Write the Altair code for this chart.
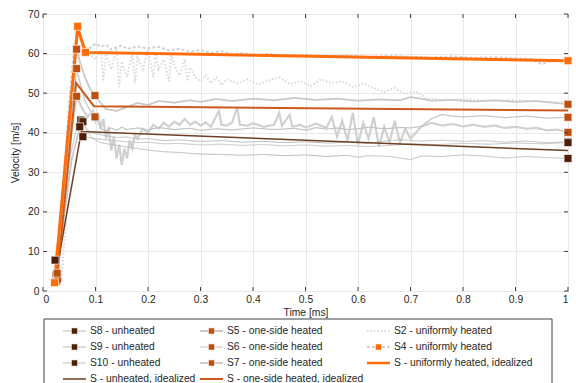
import altair as alt
import pandas as pd

# ---------------- data ----------------
XTICKS = [0, 0.1, 0.2, 0.3, 0.4, 0.5, 0.6, 0.7, 0.8, 0.9, 1]
YTICKS = [0, 10, 20, 30, 40, 50, 60, 70]

# measured traces (time [ms], velocity [m/s])
S2 = [(0.035, 3), (0.045, 20), (0.055, 42), (0.065, 58), (0.075, 63), (0.085, 61), (0.095, 59),
      (0.1, 58.5), (0.11, 61), (0.115, 53), (0.12, 60), (0.13, 56), (0.14, 61.5), (0.145, 51.5),
      (0.15, 58), (0.16, 54), (0.17, 60.5), (0.175, 52.5), (0.18, 59), (0.19, 56), (0.2, 61),
      (0.21, 54), (0.215, 60), (0.22, 56), (0.23, 58.5), (0.24, 53), (0.245, 60), (0.25, 57),
      (0.26, 54.5), (0.27, 58.5), (0.275, 53), (0.28, 56.5), (0.29, 54), (0.3, 53), (0.31, 54.5),
      (0.32, 52.5), (0.33, 54), (0.34, 52), (0.35, 53.5), (0.37, 52.5), (0.39, 53.5), (0.41, 52.2),
      (0.43, 53.2), (0.45, 54), (0.47, 52.3), (0.49, 53), (0.51, 51.8), (0.53, 53.5), (0.55, 52.5),
      (0.57, 53), (0.59, 51.5), (0.61, 52.5), (0.63, 51.2), (0.65, 50.3), (0.67, 51.3), (0.69, 49.8),
      (0.71, 50.5), (0.73, 48.7), (0.76, 48.2), (0.8, 48.5), (0.85, 48), (0.9, 48.3), (0.95, 47.8),
      (1.0, 47.6)]
S4 = [(0.022, 2.1), (0.03, 12), (0.04, 30), (0.05, 48), (0.058, 60), (0.066, 66.9), (0.072, 63),
      (0.081, 60.3), (0.09, 61.5), (0.1, 62.5), (0.11, 61.8), (0.12, 62.2), (0.13, 61), (0.14, 61.6),
      (0.15, 62), (0.16, 61.2), (0.18, 61.8), (0.2, 61.3), (0.22, 61.7), (0.24, 60.8), (0.26, 61.2),
      (0.28, 60.5), (0.3, 60.9), (0.32, 60.2), (0.34, 60.6), (0.36, 59.8), (0.38, 60.1), (0.4, 59.6),
      (0.43, 59.9), (0.46, 59.4), (0.5, 59.6), (0.54, 59.2), (0.58, 59.5), (0.62, 59.1), (0.66, 59.4),
      (0.7, 59.2), (0.74, 59.0), (0.78, 59.3), (0.82, 58.9), (0.86, 59.1), (0.9, 58.8), (0.93, 58.6),
      (0.95, 57.3), (0.96, 57.8), (0.98, 58.3), (1.0, 58.2)]
S5 = [(0.027, 4.5), (0.035, 15), (0.045, 32), (0.055, 50), (0.064, 61.1), (0.07, 58), (0.08, 54),
      (0.09, 51), (0.099, 49.4), (0.11, 47.5), (0.12, 46), (0.14, 45.5), (0.16, 46.5), (0.18, 47.5),
      (0.2, 47), (0.22, 48), (0.25, 47.6), (0.28, 48.2), (0.3, 47.8), (0.33, 48.5), (0.36, 48),
      (0.4, 48.6), (0.44, 48.2), (0.48, 48.8), (0.52, 48.3), (0.56, 48.6), (0.6, 48.1), (0.64, 48.4),
      (0.68, 48.2), (0.7, 49), (0.72, 48.6), (0.74, 48.1), (0.78, 48.3), (0.82, 47.9), (0.86, 48.2),
      (0.9, 47.8), (0.94, 48.0), (0.97, 47.6), (1.0, 47.2)]
S6 = [(0.028, 3.0), (0.035, 14), (0.045, 30), (0.055, 46), (0.064, 56.2), (0.072, 52), (0.08, 48),
      (0.09, 45.5), (0.099, 44), (0.105, 42.5), (0.11, 41), (0.12, 40.5), (0.13, 41.2), (0.14, 40.6),
      (0.15, 41.4), (0.16, 40.8), (0.18, 41.2), (0.2, 40.7), (0.22, 41.3), (0.25, 40.8), (0.28, 41.1),
      (0.3, 40.6), (0.33, 41.0), (0.36, 40.7), (0.4, 41.2), (0.44, 40.8), (0.48, 41.1), (0.5, 40.6),
      (0.52, 41.3), (0.54, 40.9), (0.56, 41.2), (0.58, 40.8), (0.6, 41.0), (0.62, 41.4), (0.65, 41.0),
      (0.68, 41.3), (0.7, 41.2), (0.72, 41.6), (0.74, 43.5), (0.76, 44.6), (0.78, 44.2), (0.8, 44.0),
      (0.84, 44.3), (0.88, 43.8), (0.92, 44.2), (0.96, 43.7), (1.0, 43.9)]
S7 = [(0.026, 2.5), (0.04, 20), (0.052, 38), (0.064, 49.2), (0.075, 46), (0.085, 44), (0.095, 45.5),
      (0.1, 43), (0.105, 45), (0.11, 41), (0.115, 43.5), (0.12, 38.5), (0.125, 41.5), (0.13, 35.5),
      (0.135, 39), (0.14, 33.5), (0.145, 37), (0.15, 31.8), (0.155, 36), (0.16, 33.5), (0.165, 38),
      (0.17, 36), (0.175, 39.5), (0.18, 38.5), (0.19, 41), (0.2, 40), (0.21, 42), (0.22, 41),
      (0.23, 42.5), (0.24, 41.5), (0.25, 42.8), (0.26, 42), (0.27, 43.5), (0.28, 42), (0.29, 42.8),
      (0.3, 41.8), (0.31, 42.6), (0.32, 41.5), (0.335, 45.5), (0.34, 42), (0.35, 41.8), (0.36, 42.5),
      (0.37, 46.5), (0.375, 42), (0.39, 41.8), (0.4, 42.4), (0.42, 41.5), (0.44, 42), (0.45, 45),
      (0.455, 41.8), (0.47, 44.5), (0.475, 41.5), (0.49, 42), (0.5, 41.3), (0.52, 42.3), (0.54, 41.2),
      (0.55, 44), (0.56, 39), (0.57, 43), (0.58, 38), (0.59, 45), (0.6, 37), (0.61, 42.5), (0.62, 38.5),
      (0.63, 44), (0.64, 36.5), (0.65, 41.5), (0.66, 37.5), (0.67, 43), (0.68, 37.5), (0.69, 41),
      (0.7, 38.5), (0.72, 41.5), (0.74, 42.5), (0.76, 41.8), (0.78, 42.2), (0.8, 41.6), (0.82, 42),
      (0.84, 41.5), (0.86, 41.8), (0.88, 41.2), (0.9, 41.5), (0.92, 41), (0.94, 41.2), (0.96, 40.6),
      (0.98, 40.8), (1.0, 40.1)]
S8 = [(0.023, 7.8), (0.035, 20), (0.05, 33), (0.062, 40), (0.072, 43.2), (0.08, 41.5), (0.09, 40.2),
      (0.1, 39.8), (0.12, 39.2), (0.14, 38.8), (0.16, 38.9), (0.18, 38.4), (0.2, 38.5), (0.23, 38.0),
      (0.26, 38.2), (0.3, 37.8), (0.34, 38.0), (0.38, 37.6), (0.42, 37.8), (0.46, 37.5), (0.5, 37.7),
      (0.54, 37.4), (0.58, 37.6), (0.62, 37.3), (0.65, 37.9), (0.68, 38.2), (0.72, 37.9), (0.76, 38.1),
      (0.8, 37.8), (0.84, 38.0), (0.88, 37.6), (0.92, 37.9), (0.96, 37.5), (1.0, 37.7)]
S9 = [(0.026, 3.5), (0.04, 18), (0.055, 33), (0.068, 40), (0.076, 42.8), (0.085, 40), (0.095, 38.5),
      (0.11, 37.5), (0.13, 37), (0.15, 36.6), (0.18, 36), (0.2, 35.6), (0.23, 35.2), (0.26, 35.0),
      (0.3, 34.6), (0.34, 34.5), (0.38, 34.3), (0.42, 34.5), (0.46, 34.2), (0.5, 34.4), (0.54, 34.0),
      (0.58, 34.3), (0.6, 33.8), (0.62, 34.2), (0.66, 34.0), (0.7, 33.2), (0.72, 34.1), (0.76, 34.0),
      (0.8, 34.4), (0.84, 34.1), (0.88, 33.6), (0.92, 34.0), (0.96, 33.7), (1.0, 33.5)]
S10 = [(0.025, 4.0), (0.04, 20), (0.055, 34), (0.07, 41.5), (0.076, 39), (0.085, 38.8), (0.1, 38.5),
       (0.12, 38.2), (0.15, 37.8), (0.18, 37.5), (0.2, 37.6), (0.23, 37.2), (0.26, 37.3), (0.3, 36.9),
       (0.34, 37.1), (0.38, 36.8), (0.42, 37.0), (0.46, 36.7), (0.5, 36.9), (0.54, 36.6), (0.58, 36.8),
       (0.62, 36.5), (0.66, 36.8), (0.7, 37.2), (0.75, 37.0), (0.8, 37.3), (0.85, 37.1), (0.9, 37.4),
       (0.95, 37.2), (1.0, 37.5)]

# characteristic points (square markers)
MARK_S4 = [(0.022, 2.1), (0.066, 66.9), (0.081, 60.3), (1.0, 58.2)]
MARK_S5 = [(0.027, 4.5), (0.064, 61.1), (0.099, 49.4), (1.0, 47.2)]
MARK_S6 = [(0.028, 3.0), (0.064, 56.2), (0.099, 44.0), (1.0, 43.9)]
MARK_S7 = [(0.026, 2.5), (0.064, 49.2), (1.0, 40.1)]
MARK_S8 = [(0.023, 7.8), (0.072, 43.2), (1.0, 37.7)]
MARK_S9 = [(0.026, 3.5), (0.076, 42.8), (1.0, 33.5)]
MARK_S10 = [(0.025, 4.0), (0.07, 41.5), (0.076, 39.0), (1.0, 37.5)]

# idealized curves
IDEAL_UNIFORM = [(0.022, 2.1), (0.066, 66.5), (0.081, 60.3), (1.0, 58.2)]
IDEAL_ONESIDE = [(0.027, 3.5), (0.063, 52.6), (0.097, 46.7), (1.0, 45.6)]
IDEAL_UNHEATED = [(0.027, 6.0), (0.073, 40.3), (1.0, 35.5)]

# legend entries in row-major order (3 columns)
LEGEND_LABELS = ["S8 - unheated", "S5 - one-side heated", "S2 - uniformly heated",
                 "S9 - unheated", "S6 - one-side heated", "S4 - uniformly heated",
                 "S10 - unheated", "S7 - one-side heated", "S - uniformly heated, idealized",
                 "S - unheated, idealized", "S - one-side heated, idealized"]
LEGEND_KEYS = ["S8", "S5", "S2", "S9", "S6", "S4", "S10", "S7", "IU", "IH", "IO"]

# ---------------- styles ----------------
BROWN = "#4e1e06"
DKORANGE = "#bd4f0e"
ORANGE = "#ff6c0a"
FONT = "Liberation Sans"
TXT = "#262626"

LINE_STYLE = {  # key: (color, width, dash)
    "S2": ("#d9d9d9", 2.0, [1.5, 2]),
    "S4": ("#d2d2d2", 2.0, [3, 2]),
    "S5": ("#c9c9c9", 1.8, [1, 0]),
    "S6": ("#c4c4c4", 1.2, [1, 0]),
    "S7": ("#d0d0d0", 2.2, [1, 0]),
    "S8": ("#bdbdbd", 1.0, [1, 0]),
    "S9": ("#bdbdbd", 1.0, [1, 0]),
    "S10": ("#c2c2c2", 1.0, [1, 0]),
    "IU": (ORANGE, 3.0, [1, 0]),
    "IO": ("#cc5a1c", 2.0, [1, 0]),
    "IH": ("#6e3f22", 1.5, [1, 0]),
}
MARKER_COLOR = {"S4": ORANGE, "S5": DKORANGE, "S6": DKORANGE, "S7": DKORANGE,
                "S8": BROWN, "S9": BROWN, "S10": BROWN}

TRACES = {"S2": S2, "S4": S4, "S7": S7, "S6": S6, "S5": S5, "S10": S10, "S9": S9, "S8": S8}
IDEALS = {"IH": IDEAL_UNHEATED, "IO": IDEAL_ONESIDE, "IU": IDEAL_UNIFORM}
MARKS = {"S8": MARK_S8, "S9": MARK_S9, "S10": MARK_S10, "S7": MARK_S7, "S6": MARK_S6,
         "S5": MARK_S5, "S4": MARK_S4}


def line_table(groups):
    rows = []
    for key, pts in groups.items():
        c, w, d = LINE_STYLE[key]
        for i, (t, v) in enumerate(pts):
            rows.append({"series": key, "t": t, "v": v, "i": i, "c": c, "w": w, "d": d})
    return pd.DataFrame(rows)


trace_df = line_table(TRACES)
ideal_df = line_table(IDEALS)
mark_df = pd.DataFrame([{"series": k, "t": t, "v": v, "c": MARKER_COLOR[k]}
                        for k, pts in MARKS.items() for (t, v) in pts])

xs = alt.Scale(domain=[0, 1], nice=False, zero=False)
ys = alt.Scale(domain=[0, 70], nice=False, zero=False)
XAX = alt.Axis(values=XTICKS, format="~g", title="Time [ms]", grid=True,
               titlePadding=3, labelPadding=3, labelOverlap=False, tickCount=11)
YAX = alt.Axis(values=YTICKS, title="Velocity [m/s]", grid=True,
               titlePadding=7, labelPadding=4, labelOverlap=False, tickCount=8)
X = alt.X("t:Q", scale=xs, axis=XAX)
Y = alt.Y("v:Q", scale=ys, axis=YAX)

traces = alt.Chart(trace_df).mark_line(clip=True).encode(
    x=X, y=Y,
    detail="series:N",
    color=alt.Color("c:N", scale=None),
    strokeWidth=alt.StrokeWidth("w:Q", scale=None),
    strokeDash=alt.StrokeDash("d", scale=None),
    order="i:Q",
)
ideals = alt.Chart(ideal_df).mark_line(clip=True).encode(
    x=X, y=Y,
    detail="series:N",
    color=alt.Color("c:N", scale=None),
    strokeWidth=alt.StrokeWidth("w:Q", scale=None),
    order="i:Q",
)
markers = alt.Chart(mark_df).mark_square(size=62, opacity=1, stroke="#ffffff",
                                         strokeWidth=0.8, strokeOpacity=0.8).encode(
    x=X, y=Y, color=alt.Color("c:N", scale=None))

# inward tick marks on all four sides
ytick_df = pd.DataFrame({"v": YTICKS})
xtick_df = pd.DataFrame({"t": XTICKS})
tk = dict(color="#404040", strokeWidth=1)
tick_l = alt.Chart(ytick_df).mark_rule(**tk).encode(y=Y, x=alt.value(0), x2=alt.value(4))
tick_r = alt.Chart(ytick_df).mark_rule(**tk).encode(y=Y, x=alt.value(521), x2=alt.value(525))
tick_b = alt.Chart(xtick_df).mark_rule(**tk).encode(x=X, y=alt.value(277), y2=alt.value(273))
tick_t = alt.Chart(xtick_df).mark_rule(**tk).encode(x=X, y=alt.value(0), y2=alt.value(4))

main = alt.layer(traces, ideals, markers, tick_l, tick_r, tick_b, tick_t)

# ---------------- legend (own scales) ----------------
leg_rows = []
for n, (key, lab) in enumerate(zip(LEGEND_KEYS, LEGEND_LABELS)):
    c, w, d = LINE_STYLE[key]
    leg_rows.append({"col": n % 3, "row": n // 3, "label": lab, "c": c,
                     "w": min(w, 2.5) if key.startswith("I") else max(w, 1.2), "d": d,
                     "m": MARKER_COLOR.get(key)})
leg_df = pd.DataFrame(leg_rows)
leg_mark_df = leg_df[leg_df["m"].notna()].reset_index(drop=True)

LX = alt.X("col:Q", scale=alt.Scale(domain=[0, 1, 2], range=[20, 157, 324]), axis=None)
LY = alt.Y("row:Q", scale=alt.Scale(domain=[0, 3], range=[317, 365]), axis=None)

frame = alt.Chart(pd.DataFrame({"a": [0]})).mark_rect(
    fill="#ffffff", stroke="#404040", strokeWidth=1).encode(
    x=alt.value(1), x2=alt.value(509), y=alt.value(305), y2=alt.value(420))
leg_lines = alt.Chart(leg_df).mark_rule(x2Offset=23).encode(
    x=LX, x2="col:Q", y=LY,
    color=alt.Color("c:N", scale=None),
    strokeWidth=alt.StrokeWidth("w:Q", scale=None),
    strokeDash=alt.StrokeDash("d", scale=None),
)
leg_marks = alt.Chart(leg_mark_df).mark_square(size=38, opacity=1, xOffset=11.5,
                                               stroke="#ffffff", strokeWidth=0.6).encode(
    x=LX, y=LY, color=alt.Color("m:N", scale=None))
leg_text = alt.Chart(leg_df).mark_text(align="left", baseline="middle", dx=27,
                                       font=FONT, fontSize=10.3, color=TXT).encode(
    x=LX, y=LY, text="label:N")

legend = alt.layer(frame, leg_lines, leg_marks, leg_text)

chart = alt.layer(main, legend).resolve_scale(
    x="independent", y="independent"
).properties(
    width=525, height=277,
    autosize=alt.AutoSizeParams(type="none"),
    padding={"left": 43, "top": 14, "right": 8, "bottom": 92},
).configure_view(
    stroke="#404040", strokeWidth=1
).configure_axis(
    labelFont=FONT, titleFont=FONT, labelFontSize=10.3, titleFontSize=10.3,
    titleFontWeight="normal", labelColor=TXT, titleColor=TXT,
    gridColor="#e8e8e8", gridWidth=1, domain=False, ticks=False,
)

chart.save("out.html", embed_options={"renderer": "svg", "actions": False})
